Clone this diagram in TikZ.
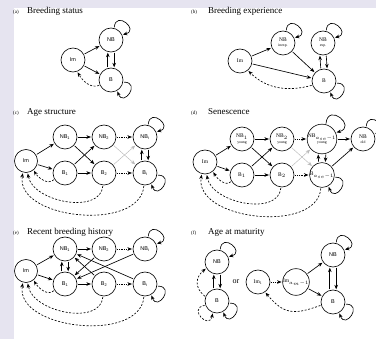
\documentclass[tikz,border=0pt]{standalone}
\usepackage{fontspec}
\setmainfont{Liberation Serif}
\setsansfont{Liberation Sans}
\usetikzlibrary{arrows.meta}
\definecolor{lav}{RGB}{230,228,240}
\newcommand\smlf{\fontsize{3.8}{4}\selectfont}
\begin{document}
\begin{tikzpicture}[x=1pt,y=1pt,
 st/.style={circle,draw,line width=0.6pt,minimum size=24pt,inner sep=0pt,align=center,font=\fontsize{5.5}{5.5}\selectfont\sffamily},
 sts/.style={st,font=\fontsize{5.5}{5}\selectfont\rmfamily},
 arr/.style={-{Stealth[length=4.5pt,width=3.6pt]},line width=0.65pt,shorten >=0.8pt,shorten <=0.8pt},
 lp/.style={arr,looseness=4.5},
 dot/.style={arr,dash pattern=on 0.9pt off 0.9pt},
 gry/.style={arr,draw=gray!55,line width=0.45pt},
 dsh/.style={arr,dash pattern=on 2pt off 1.6pt},
 ttl/.style={anchor=base west,inner sep=0pt,font=\fontsize{9}{9}\selectfont},
 lab/.style={anchor=base west,inner sep=0pt,font=\fontsize{5}{5}\selectfont}
]
\useasboundingbox (0,0) rectangle (376,-339);
\clip (0,0) rectangle (376,-339);
\fill[lav] (0,0) rectangle (376,-339);
\fill[white] (14,-8) rectangle (376,-339);

% ---------- (a)
\node[lab] (ta1) at (13,-14) {(a)};
\node[ttl] (ta2) at (27,-14) {Breeding status};
\node[st] (aIm) at (73,-60) {Im};
\node[st] (aNB) at (111,-40) {NB};
\node[st] (aB) at (111,-80) {B};
\draw[arr] (aIm) -- (aNB);
\draw[arr] (aIm) -- (aB);
\draw[arr] (aB.105) -- (aNB.255);
\draw[arr] (aNB.285) -- (aB.75);
\draw[lp] (aNB.75) to[out=85,in=15] (aNB.25);
\draw[lp] (aB.-10) to[out=0,in=-70] (aB.-60);
\draw[dsh] (aB.205) to[out=200,in=-60] (aIm.-70);

% ---------- (b)
\node[lab] (tb1) at (191,-14) {(b)};
\node[ttl] (tb2) at (208,-14) {Breeding experience};
\node[sts] (bIm) at (240,-61) {Im};
\node[sts] (bNBi) at (283,-43) {NB\\[0pt]{\smlf inexp.}};
\node[sts] (bNBe) at (323,-43) {NB\\[0pt]{\smlf exp.}};
\node[sts] (bB) at (324,-81) {B};
\draw[arr] (bIm) -- (bNBi);
\draw[arr] (bIm) -- (bB);
\draw[arr] (bNBi) -- (bB);
\draw[arr] (bB.105) -- (bNBe.255);
\draw[arr] (bNBe.285) -- (bB.75);
\draw[lp] (bNBi.75) to[out=85,in=15] (bNBi.25);
\draw[lp] (bNBe.75) to[out=85,in=15] (bNBe.25);
\draw[lp] (bB.-10) to[out=0,in=-70] (bB.-60);
\draw[dsh] (bB.200) to[out=195,in=-45] (bIm.-50);

% ---------- (c)
\node[lab] (tc1) at (13,-115) {(c)};
\node[ttl] (tc2) at (27,-115) {Age structure};
\node[st,minimum size=23pt] (cIm) at (26,-161) {Im};
\node[st] (cNB1) at (65,-137) {NB\textsubscript{1}};
\node[st] (cNB2) at (104,-137) {NB\textsubscript{2}};
\node[st] (cNBi) at (145,-137) {NB\textsubscript{\textit{i}}};
\node[st] (cB1) at (65,-173) {B\textsubscript{1}};
\node[st] (cB2) at (104,-173) {B\textsubscript{2}};
\node[st] (cBi) at (145,-173) {B\textsubscript{\textit{i}}};
\draw[arr] (cIm) -- (cNB1);
\draw[arr] (cIm) -- (cB1);
\draw[arr] (cNB1) -- (cNB2);
\draw[dot] (cNB2) -- (cNBi);
\draw[arr] (cB1) -- (cB2);
\draw[dot] (cB2) -- (cBi);
\draw[arr] (cNB1) -- (cB2);
\draw[arr] (cB1) -- (cNB2);
\draw[gry] (cNB2) -- (cBi);
\draw[gry] (cB2) -- (cNBi);
\draw[arr] (cBi.105) -- (cNBi.255);
\draw[arr] (cNBi.285) -- (cBi.75);
\draw[lp] (cNBi.75) to[out=85,in=15] (cNBi.25);
\draw[lp] (cBi.-10) to[out=0,in=-70] (cBi.-60);
\draw[dsh] (cB1.210) to[out=225,in=-60] (cIm.-50);
\draw[dsh] (cB2.-95) to[out=-95,in=-80] (cIm.-82);
\draw[dsh] (cBi.-95) to[out=-95,in=-100] (cIm.-105);

% ---------- (d)
\node[lab] (td1) at (191,-115) {(d)};
\node[ttl] (td2) at (208,-115) {Senescence};
\node[sts] (dIm) at (205,-162) {Im};
\node[sts] (dNB1) at (242,-139) {NB$_1$\\[0.5pt]{\smlf young}};
\node[sts] (dNB2) at (282,-139) {NB$_2$\\[0.5pt]{\smlf young}};
\node[sts] (dNBa) at (322,-139) {NB$_{a_{se}-1}$\\[0.5pt]{\smlf young}};
\node[sts] (dNBo) at (363,-139) {NB\\[0pt]{\smlf old}};
\node[sts] (dB1) at (242,-175) {B$_1$};
\node[sts] (dB2) at (282,-175) {B$_2$};
\node[sts] (dBa) at (322,-175) {B$_{a_{se}-1}$};
\draw[arr] (dIm) -- (dNB1);
\draw[arr] (dIm) -- (dB1);
\draw[arr] (dNB1) -- (dNB2);
\draw[dot] (dNB2) -- (dNBa);
\draw[arr] (dB1) -- (dB2);
\draw[dot] (dB2) -- (dBa);
\draw[arr] (dNB1) -- (dB2);
\draw[arr] (dB1) -- (dNB2);
\draw[gry] (dNB2) -- (dBa);
\draw[gry] (dB2) -- (dNBa);
\draw[arr] (dBa.105) -- (dNBa.255);
\draw[arr] (dNBa.285) -- (dBa.75);
\draw[arr] (dNBa) -- (dNBo);
\draw[arr] (dBa) -- (dNBo);
\draw[lp] (dNBa.75) to[out=85,in=15] (dNBa.25);
\draw[lp] (dNBo.75) to[out=85,in=15] (dNBo.25);
\draw[lp] (dBa.-10) to[out=0,in=-70] (dBa.-60);
\draw[dsh] (dB1.210) to[out=225,in=-60] (dIm.-50);
\draw[dsh] (dB2.-95) to[out=-95,in=-80] (dIm.-82);
\draw[dsh] (dBa.-95) to[out=-95,in=-100] (dIm.-105);

% ---------- (e)
\node[lab] (te1) at (13,-235) {(e)};
\node[ttl] (te2) at (27,-235) {Recent breeding history};
\node[st,minimum size=23pt] (eIm) at (26,-271) {Im};
\node[st] (eNB1) at (65,-249) {NB\textsubscript{1}};
\node[st] (eNB2) at (104,-249) {NB\textsubscript{2}};
\node[st] (eNBi) at (145,-249) {NB\textsubscript{\textit{i}}};
\node[st] (eB1) at (65,-284) {B\textsubscript{1}};
\node[st] (eB2) at (104,-284) {B\textsubscript{2}};
\node[st] (eBi) at (145,-284) {B\textsubscript{\textit{i}}};
\draw[arr] (eIm) -- (eNB1);
\draw[arr] (eIm) -- (eB1);
\draw[arr] (eNB1) -- (eNB2);
\draw[dot] (eNB2) -- (eNBi);
\draw[arr] (eB1) -- (eB2);
\draw[dot] (eB2) -- (eBi);
\draw[arr] (eB1.105) -- (eNB1.255);
\draw[arr] (eNB1.285) -- (eB1.75);
\draw[arr] (eNB2) -- (eB1);
\draw[arr] (eNBi) -- (eB1);
\draw[arr] (eB2) -- (eNB1);
\draw[arr] (eBi) -- (eNB1);
\draw[lp] (eNBi.75) to[out=85,in=15] (eNBi.25);
\draw[lp] (eBi.-10) to[out=0,in=-70] (eBi.-60);
\draw[dsh] (eB1.210) to[out=225,in=-60] (eIm.-50);
\draw[dsh] (eB2.-95) to[out=-95,in=-80] (eIm.-82);
\draw[dsh] (eBi.-95) to[out=-95,in=-100] (eIm.-105);

% ---------- (f)
\node[lab] (tf1) at (191,-235) {(f)};
\node[ttl] (tf2) at (208,-235) {Age at maturity};
\node[st] (fNB) at (217,-262) {NB};
\node[st] (fB) at (217,-301) {B};
\node[font=\fontsize{8}{8}\selectfont] (for) at (236,-282) {or};
\node[sts] (fIm1) at (258,-282) {Im\textsubscript{1}};
\node[sts] (fIma) at (296,-282) {Im$_{a_m-1}$};
\node[st] (fNB2) at (333,-255) {NB};
\node[st] (fB2) at (333,-302) {B};
\draw[arr] (fB.105) -- (fNB.255);
\draw[arr] (fNB.285) -- (fB.75);
\draw[lp] (fNB.75) to[out=85,in=15] (fNB.25);
\draw[lp] (fB.-10) to[out=0,in=-70] (fB.-60);
\draw[dsh,looseness=4.5] (fB.200) to[out=190,in=260] (fB.250);
\draw[dsh] (fB.160) to[out=140,in=220,looseness=1.3] (fNB.210);
\draw[dot] (fIm1) -- (fIma);
\draw[arr] (fIma) -- (fNB2);
\draw[arr] (fIma) -- (fB2);
\draw[arr] (fB2.105) -- (fNB2.255);
\draw[arr] (fNB2.285) -- (fB2.75);
\draw[lp] (fNB2.75) to[out=85,in=15] (fNB2.25);
\draw[lp] (fB2.-10) to[out=0,in=-70] (fB2.-60);
\draw[dsh] (fB2.195) to[out=200,in=-50,looseness=1.3] (fIm1.-55);
\end{tikzpicture}
\end{document}
